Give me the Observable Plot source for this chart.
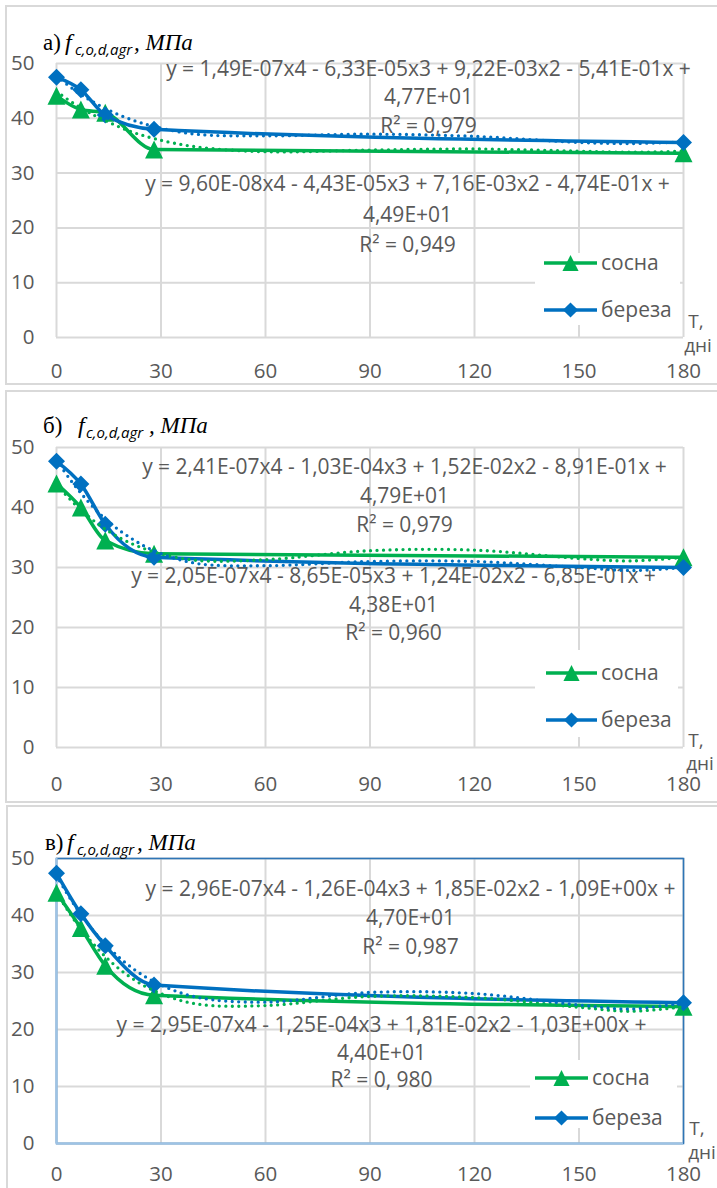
<!DOCTYPE html>
<html>
<head>
<meta charset="utf-8">
<script src="https://cdn.jsdelivr.net/npm/d3@7"></script>
<script src="https://cdn.jsdelivr.net/npm/@observablehq/plot@0.6"></script>
<style>
html,body{margin:0;padding:0;background:#fff;}
body{position:relative;width:717px;height:1188px;overflow:hidden;font-family:"Open Sans",sans-serif;}
.box{position:absolute;border:2px solid #d9d9d9;border-right:none;box-sizing:border-box;}
</style>
</head>
<body>
<script>
// ---------------- data ----------------
const seriesNames = ["сосна", "береза"];
const xTicks = [0, 30, 60, 90, 120, 150, 180];
const yTicks = [0, 10, 20, 30, 40, 50];
const days = [0, 7, 14, 28, 180];

const pineA  = [44.1, 41.6, 41.0, 34.3, 33.6];
const birchA = [47.5, 45.2, 40.6, 38.0, 35.6];
const pineB  = [44.0, 40.0, 34.5, 32.3, 31.7];
const birchB = [47.7, 43.9, 37.2, 31.7, 30.0];
const pineC  = [44.0, 37.8, 31.2, 26.0, 24.0];
const birchC = [47.4, 40.3, 34.7, 27.8, 24.7];

// polynomial trendlines (order 4)
const trendDays   = [0, 4, 7, 10, 14, 20, 28, 40, 60, 90, 120, 150, 165, 180];
const pineTrendA  = [44.9, 43.1, 41.9, 40.8, 39.6, 37.9, 36.3, 34.8, 33.9, 34.2, 34.4, 34.0, 33.8, 34.0];
const birchTrendA = [47.7, 45.7, 44.3, 43.2, 41.8, 40.1, 38.5, 37.1, 36.8, 37.1, 36.7, 35.6, 35.4, 35.7];
const pineTrendB  = [43.8, 41.3, 39.6, 38.1, 36.4, 34.4, 32.6, 31.2, 31.3, 32.8, 32.9, 31.5, 31.1, 31.7];
const birchTrendB = [47.9, 44.6, 42.4, 40.4, 38.1, 35.4, 32.8, 30.7, 30.3, 31.0, 31.0, 30.0, 29.5, 30.0];
const pineTrendC  = [44.0, 40.2, 37.6, 35.4, 32.8, 29.7, 26.8, 24.5, 24.2, 25.8, 25.6, 23.9, 23.2, 24.0];
const birchTrendC = [47.0, 42.9, 40.2, 37.8, 35.0, 31.6, 28.4, 25.7, 24.8, 26.5, 26.3, 24.3, 23.6, 24.7];

const eqBirchA = ["y = 1,49E-07x4 - 6,33E-05x3 + 9,22E-03x2 - 5,41E-01x +", "4,77E+01", "R² = 0,979"];
const eqPineA  = ["y = 9,60E-08x4 - 4,43E-05x3 + 7,16E-03x2 - 4,74E-01x +", "4,49E+01", "R² = 0,949"];
const eqBirchB = ["y = 2,41E-07x4 - 1,03E-04x3 + 1,52E-02x2 - 8,91E-01x +", "4,79E+01", "R² = 0,979"];
const eqPineB  = ["y = 2,05E-07x4 - 8,65E-05x3 + 1,24E-02x2 - 6,85E-01x +", "4,38E+01", "R² = 0,960"];
const eqBirchC = ["y = 2,96E-07x4 - 1,26E-04x3 + 1,85E-02x2 - 1,09E+00x +", "4,70E+01", "R² = 0,987"];
const eqPineC  = ["y = 2,95E-07x4 - 1,25E-04x3 + 1,81E-02x2 - 1,03E+00x +", "4,40E+01", "R² = 0, 980"];

const panelLetters = ["а)", "б)", "в)"];
const titleSub = "c,o,d,agr";
const titleUnit = ", МПа";
const axisT = "T,";
const axisDays = "дні";

// ---------------- styles ----------------
const colors = {"сосна": "#00b050", "береза": "#0070c0"};
const textGray = "#595959";
const gridGray = "#d9d9d9";
const triSym = {draw(ctx, size) { const h = Math.sqrt(size) / 2; ctx.moveTo(0, -h); ctx.lineTo(h, h); ctx.lineTo(-h, h); ctx.closePath(); }};
const diaSym = {draw(ctx, size) { const h = Math.sqrt(size) / 2; ctx.moveTo(0, -h); ctx.lineTo(h, 0); ctx.lineTo(0, h); ctx.lineTo(-h, 0); ctx.closePath(); }};
const symbols = {"сосна": triSym, "береза": diaSym};
const markerArea = {"сосна": 18 * 18, "береза": 17 * 17};

// ---------------- layout ----------------
const layouts = [
  {top: 0, height: 385, mt: 63, mb: 48, xpad: 26, box: {left: 5, top: 5, height: 380}, blueFrame: false,
   eqBirch: {cx: 428, cy: [68.5, 97, 125.5]}, eqPine: {cx: 407, cy: [184, 214.5, 245]},
   legend: {left: 535, top: 253, width: 145, height: 72, rowY: [263, 310], lineX: [544, 597], textX: 601},
   title: {y: 50, subY: 55, x: [43, 65, 75, 134]}, tLab: [696, 321], dLab: [698, 345]},
  {top: 390, height: 413, mt: 57, mb: 56, xpad: 29, box: {left: 5, top: 390, height: 413}, blueFrame: false,
   eqBirch: {cx: 404, cy: [467, 496, 525]}, eqPine: {cx: 393, cy: [576, 605, 633]},
   legend: {left: 535, top: 650, width: 143, height: 87, rowY: [673, 720], lineX: [546, 597], textX: 601},
   title: {y: 433, subY: 438, x: [43, 78, 86, 149]}, tLab: [696, 740], dLab: [700, 763]},
  {top: 805, height: 383, mt: 53, mb: 45, xpad: 23, box: {left: 6, top: 805, height: 400}, blueFrame: true,
   eqBirch: {cx: 410, cy: [889, 918, 947]}, eqPine: {cx: 381, cy: [1025, 1052.5, 1080]},
   legend: {left: 530, top: 1060, width: 147, height: 68, rowY: [1078, 1118], lineX: [535, 588], textX: 592},
   title: {y: 850, subY: 855, x: [45, 67, 77, 137]}, tLab: [697, 1128], dLab: [702, 1152]}
];

const panelData = [
  {pine: pineA, birch: birchA, pineTrend: pineTrendA, birchTrend: birchTrendA, eqBirch: eqBirchA, eqPine: eqPineA},
  {pine: pineB, birch: birchB, pineTrend: pineTrendB, birchTrend: birchTrendB, eqBirch: eqBirchB, eqPine: eqPineB},
  {pine: pineC, birch: birchC, pineTrend: pineTrendC, birchTrend: birchTrendC, eqBirch: eqBirchC, eqPine: eqPineC}
];

// background boxes
layouts.forEach(L => {
  const b = document.createElement("div");
  b.className = "box";
  b.style.left = L.box.left + "px";
  b.style.top = L.box.top + "px";
  b.style.width = "730px";
  b.style.height = L.box.height + "px";
  document.body.appendChild(b);
});

function makePanel(L, D) {
  const frameTop = L.top + L.mt;
  const rows = (xs, ys) => xs.map((x, i) => ({x, y: ys[i]}));
  const pine = rows(days, D.pine), birch = rows(days, D.birch);
  const pineT = rows(trendDays, D.pineTrend), birchT = rows(trendDays, D.birchTrend);
  const eqMarks = (lines, pos) => lines.map((t, i) => Plot.text([t], {
    frameAnchor: "top-left", dx: pos.cx - 56, dy: pos.cy[i] - frameTop, text: d => d,
    textAnchor: "middle", lineAnchor: "middle", fill: textGray, fontSize: 21, fontFamily: "Open Sans"
  }));
  const marks = [
    Plot.gridX(xTicks, {stroke: gridGray, strokeOpacity: 1, strokeWidth: 2}),
    Plot.gridY(yTicks, {stroke: gridGray, strokeOpacity: 1, strokeWidth: 2})
  ];
  if (L.blueFrame) {
    marks.push(Plot.frame({stroke: "#2e75b6", strokeWidth: 1.6}));
    marks.push(Plot.ruleX([0], {stroke: "#9dc3e6", strokeWidth: 2}));
    marks.push(Plot.ruleY([0], {stroke: "#9dc3e6", strokeWidth: 2}));
  }
  marks.push(
    Plot.axisX(xTicks, {tickSize: 0, tickPadding: L.xpad, fontSize: 20.5, label: null, tickFormat: d => String(d)}),
    Plot.axisY(yTicks, {tickSize: 0, tickPadding: 22, fontSize: 20.5, label: null, tickFormat: d => String(d)}),
    ...eqMarks(D.eqBirch, L.eqBirch),
    ...eqMarks(D.eqPine, L.eqPine),
    Plot.line(pine, {x: "x", y: "y", stroke: colors["сосна"], strokeWidth: 3.5, curve: "monotone-x"}),
    Plot.dot(pine, {x: "x", y: "y", symbol: symbols["сосна"], r: Math.sqrt(markerArea["сосна"] / Math.PI), fill: colors["сосна"]}),
    Plot.line(birch, {x: "x", y: "y", stroke: colors["береза"], strokeWidth: 3.5, curve: "monotone-x"}),
    Plot.dot(birch, {x: "x", y: "y", symbol: symbols["береза"], r: Math.sqrt(markerArea["береза"] / Math.PI), fill: colors["береза"]}),
    Plot.line(pineT, {x: "x", y: "y", stroke: colors["сосна"], strokeWidth: 3.3, strokeDasharray: "0 6.5", strokeLinecap: "round", curve: "catmull-rom"}),
    Plot.line(birchT, {x: "x", y: "y", stroke: colors["береза"], strokeWidth: 3.3, strokeDasharray: "0 6.5", strokeLinecap: "round", curve: "catmull-rom"})
  );
  const svg = Plot.plot({
    width: 717, height: L.height,
    marginLeft: 56, marginRight: 34, marginTop: L.mt, marginBottom: L.mb,
    x: {domain: [0, 180], label: null},
    y: {domain: [0, 50], label: null},
    style: {fontFamily: "Open Sans", fontSize: "20.5px", color: textGray, background: "transparent", overflow: "visible"},
    marks
  });
  svg.style.position = "absolute";
  svg.style.left = "0px";
  svg.style.top = L.top + "px";
  svg.style.maxWidth = "none";
  document.body.appendChild(svg);
}

layouts.forEach((L, i) => makePanel(L, panelData[i]));

// overlay: titles, legends, axis captions
const ov = d3.select(document.body).append("svg")
  .attr("width", 717).attr("height", 1188)
  .style("position", "absolute").style("left", "0px").style("top", "0px").style("pointer-events", "none");

layouts.forEach((L, i) => {
  // title
  const t = ov.append("text").attr("y", L.title.y).attr("fill", "#000");
  t.append("tspan").attr("x", L.title.x[0]).attr("font-family", "Liberation Serif").attr("font-size", 23).text(panelLetters[i]);
  t.append("tspan").attr("x", L.title.x[1]).attr("font-family", "Liberation Serif").attr("font-style", "italic").attr("font-size", 24).text("f");
  t.append("tspan").attr("x", L.title.x[2]).attr("y", L.title.subY).attr("font-family", "Open Sans").attr("font-style", "italic").attr("font-size", 15).text(titleSub);
  t.append("tspan").attr("x", L.title.x[3]).attr("y", L.title.y).attr("font-family", "Liberation Serif").attr("font-style", "italic").attr("font-size", 23).text(titleUnit);

  // legend
  const G = L.legend;
  ov.append("rect").attr("x", G.left).attr("y", G.top).attr("width", G.width).attr("height", G.height).attr("fill", "#fff");
  seriesNames.forEach((name, j) => {
    const y = G.rowY[j];
    ov.append("line").attr("x1", G.lineX[0]).attr("x2", G.lineX[1]).attr("y1", y).attr("y2", y)
      .attr("stroke", colors[name]).attr("stroke-width", 3.5);
    ov.append("path").attr("d", d3.symbol(symbols[name], markerArea[name] * 0.8)())
      .attr("transform", `translate(${(G.lineX[0] + G.lineX[1]) / 2},${y})`).attr("fill", colors[name]);
    ov.append("text").attr("x", G.textX).attr("y", y + 7).attr("font-family", "Open Sans").attr("font-size", 21)
      .attr("fill", textGray).text(name);
  });

  // axis captions
  ov.append("text").attr("x", L.tLab[0]).attr("y", L.tLab[1] + 7).attr("text-anchor", "middle")
    .attr("font-family", "Open Sans").attr("font-size", 19).attr("fill", textGray).text(axisT);
  ov.append("text").attr("x", L.dLab[0]).attr("y", L.dLab[1] + 7).attr("text-anchor", "middle")
    .attr("font-family", "Open Sans").attr("font-size", 19).attr("fill", textGray).text(axisDays);
});
</script>
</body>
</html>
